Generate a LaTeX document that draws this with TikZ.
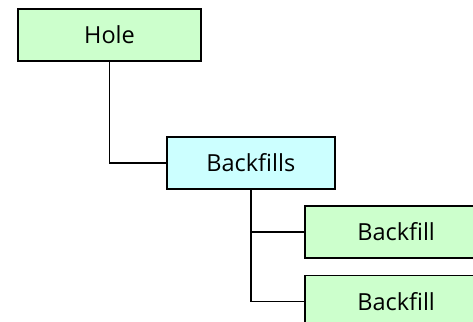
\documentclass[tikz,border=0pt]{standalone}
\usepackage{fontspec}
\setmainfont{Open Sans}
\usetikzlibrary{positioning}

\definecolor{leafgreen}{HTML}{CCFFCC}
\definecolor{groupcyan}{HTML}{CCFFFF}

\tikzset{
  item/.style={draw, rectangle, line width=1.8pt, fill=leafgreen,
    minimum width=183pt, minimum height=52pt, inner sep=0pt,
    font=\fontsize{23.5}{26}\selectfont},
  group/.style={item, fill=groupcyan, minimum width=168pt},
  link/.style={draw, line width=1.8pt}
}

\begin{document}
\begin{tikzpicture}[x=1pt, y=1pt]

    \clip (0,0) rectangle (473,-321);
    \useasboundingbox (0,0) rectangle (473,-321);

    \node[item] (hole) at (109.5,-35) {Hole};
    \node[group, below right=74pt and -36pt of hole] (backfills) {Backfills};

    \node[item, below right=15pt and -32pt of backfills] (fill1) {Backfill};
    \node[item, below=16pt of fill1] (fill2) {Backfill};

    \draw[link] (hole) |- (backfills);
    \draw[link] (backfills) |- (fill1);
    \draw[link] (backfills) |- (fill2);

\end{tikzpicture}
\end{document}
